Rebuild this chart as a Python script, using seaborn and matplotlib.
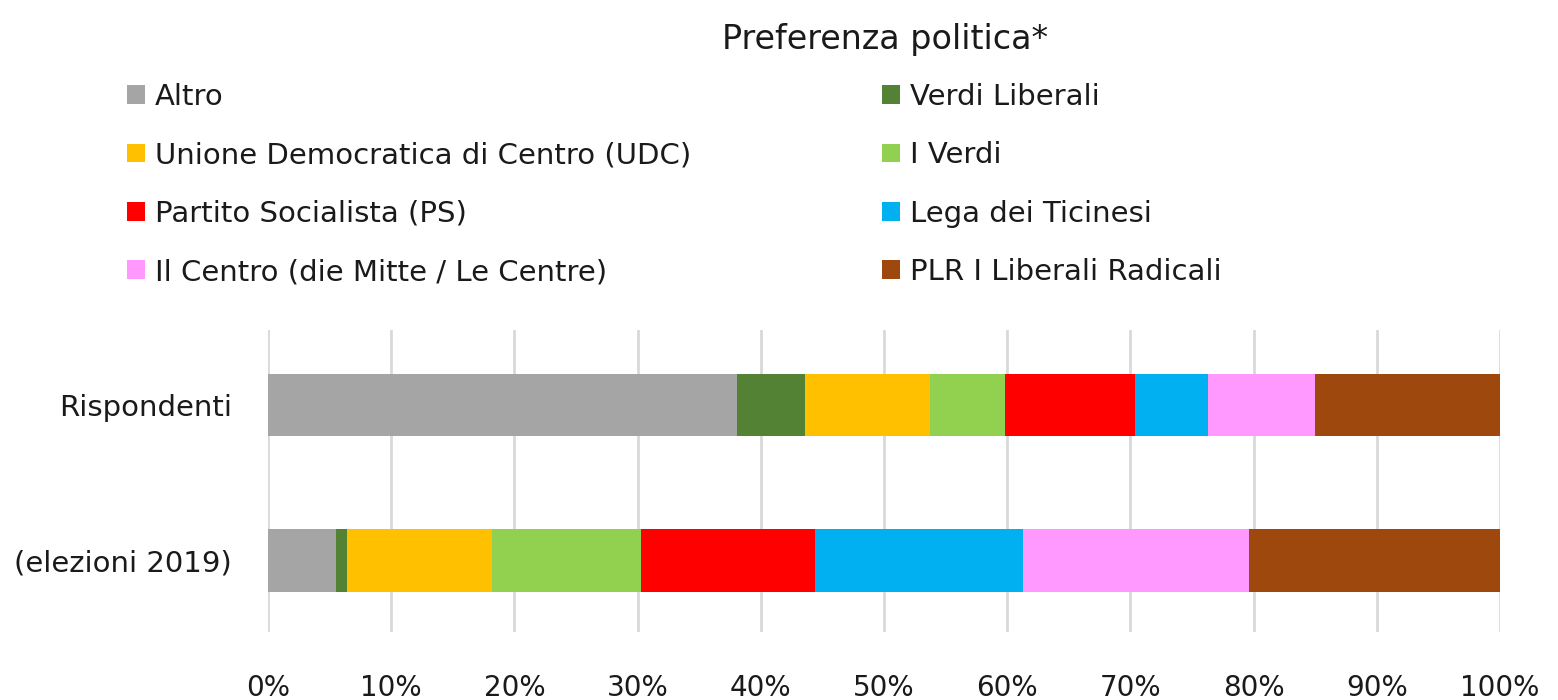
import numpy as np
import pandas as pd
import seaborn as sns
import matplotlib.pyplot as plt
from matplotlib.patches import Patch

# dati (percentuali per segmento)
gruppi = ['Rispondenti', '(elezioni 2019)']
partiti = ['Altro', 'Verdi Liberali', 'Unione Democratica di Centro (UDC)', 'I Verdi',
           'Partito Socialista (PS)', 'Lega dei Ticinesi', 'Il Centro (die Mitte / Le Centre)',
           'PLR I Liberali Radicali']
rispondenti = [38.1, 5.5, 10.1, 6.1, 10.6, 5.9, 8.7, 15.0]
elezioni_2019 = [5.5, 0.9, 11.8, 12.1, 14.1, 16.9, 18.3, 20.4]
colori = ['#A5A5A5', '#548235', '#FFC000', '#92D050', '#FF0000', '#00B0F0', '#FF99FF', '#9E480E']
ticks = np.arange(0, 101, 10)

sns.set_theme(style='white')
plt.rcParams['font.family'] = ['DejaVu Sans']

df = pd.DataFrame({'Rispondenti': rispondenti, '(elezioni 2019)': elezioni_2019}, index=partiti)
cum = df.cumsum()
cum = cum / cum.iloc[-1] * 100

fig = plt.figure(figsize=(15.58, 7), dpi=100)
ax = fig.add_axes([268 / 1558, 1 - 632 / 700, (1500 - 268) / 1558, (632 - 330) / 700])

# barre impilate: si disegna dal cumulato più grande al più piccolo
for partito, col in reversed(list(zip(partiti, colori))):
    tmp = pd.DataFrame({'gruppo': gruppi, 'val': cum.loc[partito, gruppi].values})
    sns.barplot(data=tmp, x='val', y='gruppo', order=gruppi, color=col,
                width=0.4, saturation=1, linewidth=0, ax=ax, zorder=3)

ax.set_xlim(0, 100)
ax.set_ylim(1.46, -0.48)
ax.set_xticks(ticks)
ax.set_xticklabels([f'{t}%' for t in ticks])
ax.set_xlabel('')
ax.set_ylabel('')
ax.grid(axis='x', color='#D9D9D9', linewidth=2, zorder=0)
ax.grid(axis='y', visible=False)
ax.set_axisbelow(True)
for s in ax.spines.values():
    s.set_visible(False)
ax.tick_params(axis='x', length=0, pad=30, labelsize=20, labelcolor='#1a1a1a')
ax.tick_params(axis='y', length=0, pad=26, labelsize=21, labelcolor='#1a1a1a')

fig.text(885 / 1558, 1 - 40 / 700, 'Preferenza politica*', ha='center', va='center',
         fontsize=24, color='#1a1a1a')

# legenda su due colonne
sinistra = [0, 2, 4, 6]
destra = [1, 3, 5, 7]
for idx, x0 in [(sinistra, 127), (destra, 882)]:
    handles = [Patch(facecolor=colori[i], edgecolor='none') for i in idx]
    labels = [partiti[i] for i in idx]
    fig.legend(handles, labels, loc='upper left', bbox_to_anchor=(x0 / 1558, 1 - 83 / 700),
               frameon=False, fontsize=21, handlelength=0.6, handleheight=0.6,
               handletextpad=0.35, labelspacing=1.04, borderpad=0, borderaxespad=0,
               labelcolor='#1a1a1a')

fig.savefig('out.png', dpi=100, facecolor='white')
